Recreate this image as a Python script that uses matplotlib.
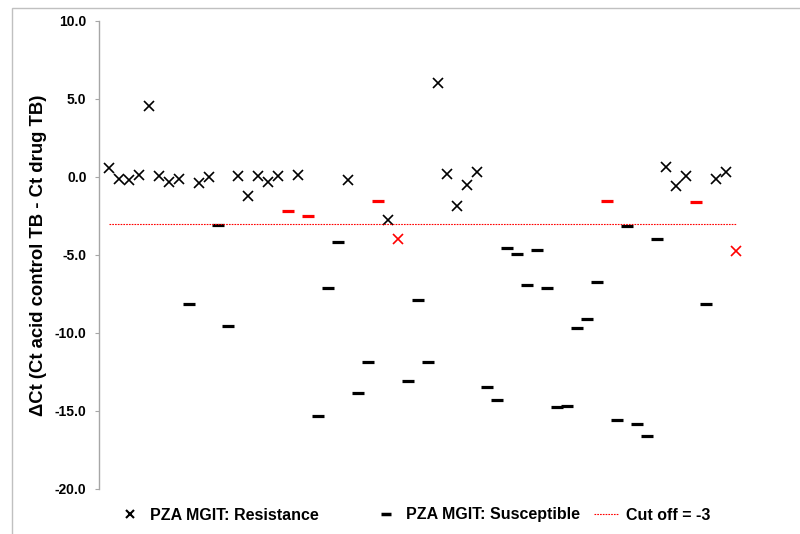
import numpy as np
import matplotlib
matplotlib.use('Agg')
import matplotlib.pyplot as plt
from matplotlib.ticker import FormatStrFormatter, MultipleLocator
from matplotlib.lines import Line2D
from matplotlib.patches import Rectangle

plt.rcParams['font.family'] = ['Liberation Sans', 'DejaVu Sans']
plt.rcParams['font.weight'] = 'bold'
plt.rcParams['axes.unicode_minus'] = False

#%% DATA (one value per isolate)
# marker type per isolate: 'R' = resistant (x), 'S' = susceptible (dash)
mgit_result = ['R', 'R', 'R', 'R', 'R', 'R', 'R', 'R', 'S', 'R',
               'R', 'S', 'S', 'R', 'R', 'R', 'R', 'R', 'S', 'R',
               'S', 'S', 'S', 'S', 'R', 'S', 'S', 'S', 'R', 'R',
               'S', 'S', 'S', 'R', 'R', 'R', 'R', 'R', 'S', 'S',
               'S', 'S', 'S', 'S', 'S', 'S', 'S', 'S', 'S', 'S',
               'S', 'S', 'S', 'S', 'S', 'S', 'R', 'R', 'R', 'S',
               'S', 'R', 'R', 'R']
delta_ct = [0.56, -0.15, -0.20, 0.13, 4.57, 0.06, -0.32, -0.13, -8.16, -0.40,
            -0.02, -3.10, -9.53, 0.06, -1.22, 0.08, -0.30, 0.06, -2.16, 0.13,
            -2.48, -15.30, -7.09, -4.19, -0.19, -13.85, -11.88, -1.54, -2.76, -3.97,
            -13.05, -7.88, -11.88, 6.00, 0.17, -1.84, -0.51, 0.30, -13.46, -14.27,
            -4.53, -4.96, -6.90, -4.68, -7.09, -14.72, -14.68, -9.66, -9.10, -6.71,
            -1.54, -15.56, -3.12, -15.85, -16.58, -3.99, 0.62, -0.56, 0.08, -1.62,
            -8.12, -0.13, 0.34, -4.72]
# discordant isolates are drawn in red
discordant = [18, 20, 27, 29, 50, 59, 63]
cutoff = -3

sample_no = np.arange(1, len(delta_ct) + 1)
delta_ct = np.array(delta_ct)
is_res = np.array([m == 'R' for m in mgit_result])
is_red = np.zeros(len(delta_ct), dtype=bool)
is_red[discordant] = True

#%% PLOT
fig = plt.figure(figsize=(8, 5.34), dpi=100)
ax = fig.add_axes([99/800, 45/534, 677/800, 468/534])

for res, marker, ms, mew in [(True, 'x', 7.5, 1.2), (False, '_', 9, 2.3)]:
    for red, col in [(False, 'black'), (True, '#ff0000')]:
        sel = (is_res == res) & (is_red == red)
        ax.plot(sample_no[sel], delta_ct[sel], linestyle='none', marker=marker,
                markersize=ms, markeredgewidth=mew, color=col)

ax.plot([sample_no[0], sample_no[-1]], [cutoff, cutoff], color='#ff0000',
        linestyle=(0, (1.5, 1)), linewidth=0.8)

ax.set_xlim(0, 68)
ax.set_ylim(-20, 10)
ax.yaxis.set_major_locator(MultipleLocator(5))
ax.yaxis.set_major_formatter(FormatStrFormatter('%.1f'))
for s in ['top', 'right', 'bottom']:
    ax.spines[s].set_visible(False)
ax.spines['left'].set_color('#a6a6a6')
ax.spines['left'].set_linewidth(1.0)
ax.tick_params(axis='x', bottom=False, labelbottom=False)
ax.tick_params(axis='y', length=3, color='#a6a6a6', pad=6, labelsize=10)
for lab in ax.get_yticklabels():
    lab.set_fontweight('bold')

ax.set_ylabel('\u0394Ct (Ct acid control TB - Ct drug TB)', fontsize=13.3, fontweight='bold')
ax.yaxis.set_label_coords(-0.077, 0.5)

#%% LEGEND (three single-entry legends so each can sit where it does in the original)
handles = [Line2D([], [], linestyle='none', marker='x', markersize=6, markeredgewidth=1.5, color='black'),
           Line2D([], [], linestyle='none', marker='_', markersize=7, markeredgewidth=2.5, color='black'),
           Line2D([], [], color='#ff0000', linestyle=(0, (1.5, 1)), linewidth=0.8)]
labels = ['PZA MGIT: Resistance', 'PZA MGIT: Susceptible', 'Cut off = -3']
leg_x = [118/800, 374/800, 594/800]
for h, lab, x0 in zip(handles, labels, leg_x):
    fig.legend([h], [lab], loc='center left', bbox_to_anchor=(x0, 19/534),
               frameon=False, prop={'size': 11.5, 'weight': 'bold'}, handlelength=1.5,
               handletextpad=0.5, borderpad=0, borderaxespad=0)

# light grey frame round the chart (right and bottom edges fall outside the picture)
fig.patches.append(Rectangle((12/800, -0.02), 1.0, 1 - 8/534 + 0.02,
                             transform=fig.transFigure, fill=False,
                             edgecolor='#c0c0c0', linewidth=1.0))

fig.savefig('out.png', dpi=100)
